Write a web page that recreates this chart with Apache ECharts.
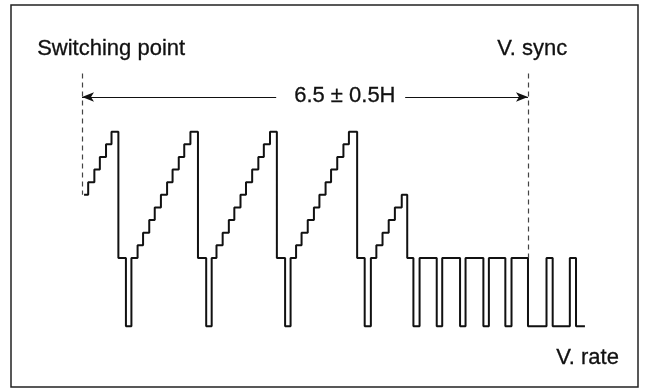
<!DOCTYPE html>
<html>
<head>
<meta charset="utf-8">
<script src="https://cdn.jsdelivr.net/npm/echarts@6/dist/echarts.min.js"></script>
<style>
html,body{margin:0;padding:0;background:#fff;}
#chart{width:645px;height:389px;}
</style>
</head>
<body>
<div id="chart"></div>
<script>
// Waveform: at each time (in H, switching point = 0) the signal steps to the given level
// (blanking = 0, ramp top = 100, sync tip = -54)
const edgeTimes = [
  0.03, 0.09, 0.18, 0.26, 0.35, 0.43,
  0.53, 0.64, 0.72,
  0.81, 0.89, 0.98, 1.06, 1.15, 1.24, 1.32, 1.41, 1.49, 1.58,
  1.69, 1.81, 1.89,
  1.96, 2.05, 2.14, 2.22, 2.31, 2.39, 2.48, 2.57, 2.65, 2.74,
  2.84, 2.96, 3.04,
  3.12, 3.20, 3.29, 3.38, 3.46, 3.55, 3.63, 3.72, 3.81, 3.89,
  4.01, 4.12, 4.21,
  4.29, 4.38, 4.47, 4.56, 4.66,
  4.74,
  4.83, 4.92, 5.17, 5.25, 5.51, 5.59, 5.85, 5.93, 6.17, 6.26,
  6.50, 6.77, 6.86, 7.11, 7.20, 7.33
];
const edgeLevels = [
  50, 60, 70, 80, 90, 100,
  0, -54, 0,
  10, 20, 30, 40, 50, 60, 70, 80, 90, 100,
  0, -54, 0,
  10, 20, 30, 40, 50, 60, 70, 80, 90, 100,
  0, -54, 0,
  10, 20, 30, 40, 50, 60, 70, 80, 90, 100,
  0, -54, 0,
  10, 20, 30, 40, 50,
  0,
  -54, 0, -54, 0, -54, 0, -54, 0, -54, 0,
  -54, 0, -54, 0, -54, -54
];
// Annotation values
const switchingPoint = 0;      // H
const vSync = 6.5;             // H
const dimensionText = '6.5 ± 0.5H';
const labels = ['Switching point', 'V. sync', 'V. rate'];

const wave = edgeTimes.map((t, i) => [t, edgeLevels[i]]);

const chart = echarts.init(document.getElementById('chart'), null, {renderer: 'canvas'});
const dimY = 127.5;
const guideTop = 146;
const fontFam = '"Liberation Sans", Arial, Helvetica, sans-serif';
const txt = (s, x, y) => ({
  type: 'text', left: x, top: y, silent: true,
  style: {text: s, font: '22px ' + fontFam, fill: '#111', stroke: '#111', lineWidth: 0.3}
});

chart.setOption({
  animation: false,
  backgroundColor: '#fff',
  grid: {left: 13.4, right: 14.1, top: 5.4, bottom: 4.7, containLabel: false},
  xAxis: {type: 'value', min: -1, max: 8, show: false},
  yAxis: {type: 'value', min: -100, max: 200, show: false},
  series: [
    {
      type: 'line',
      data: wave,
      step: 'end',
      showSymbol: false,
      symbol: 'none',
      lineStyle: {color: '#111', width: 2},
      clip: false,
      silent: true
    },
    {
      type: 'line',
      data: [],
      silent: true,
      markLine: {
        silent: true,
        animation: false,
        symbol: ['none', 'none'],
        label: {show: false},
        lineStyle: {color: '#444', width: 1.2, type: [5, 4]},
        data: [
          [{coord: [switchingPoint, guideTop]}, {coord: [switchingPoint, edgeLevels[0]]}],
          [{coord: [vSync, guideTop]}, {coord: [vSync, 0]}]
        ]
      }
    },
    {
      type: 'line',
      data: [],
      silent: true,
      markLine: {
        silent: true,
        animation: false,
        symbolSize: [7, 12],
        label: {show: false},
        lineStyle: {color: '#111', width: 1.2, type: 'solid'},
        data: [
          [{coord: [switchingPoint, dimY], symbol: 'arrow'}, {coord: [2.83, dimY], symbol: 'none'}],
          [{coord: [4.71, dimY], symbol: 'none'}, {coord: [vSync, dimY], symbol: 'arrow'}]
        ]
      }
    }
  ],
  graphic: [
    {type: 'rect', shape: {x: 11, y: 5, width: 627, height: 382},
     style: {fill: 'none', stroke: '#222', lineWidth: 1.5}, silent: true},
    txt(labels[0], 37, 38),
    txt(labels[1], 497, 38),
    txt(labels[2], 556, 347),
    txt(dimensionText, 294, 85)
  ]
});
</script>
</body>
</html>
